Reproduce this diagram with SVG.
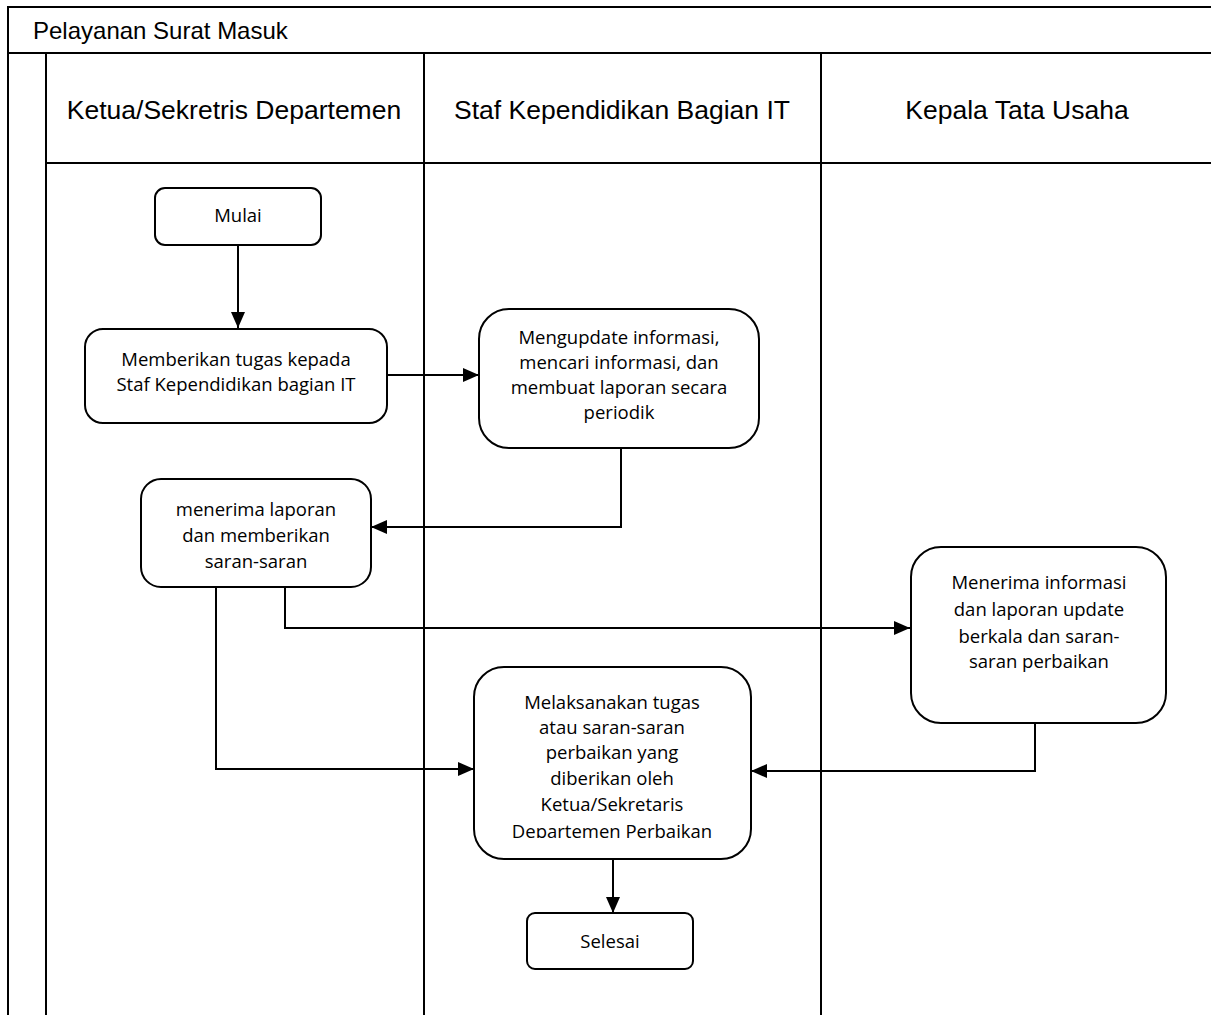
<svg xmlns="http://www.w3.org/2000/svg" width="1211" height="1015" viewBox="0 0 1211 1015">
<style>
.frame{fill:none;stroke:#000;stroke-width:2}
.box{fill:#fff;stroke:#000;stroke-width:2}
.hdr{font-family:"Liberation Sans",Arial,sans-serif;font-size:26.5px;fill:#000;text-anchor:middle}
.ttl{font-family:"Liberation Sans",Arial,sans-serif;font-size:24px;fill:#000}
.t{font-family:"Open Sans","Noto Sans",sans-serif;font-size:18.5px;fill:#000;text-anchor:middle}
.c{fill:none;stroke:#000;stroke-width:2}
</style>
<defs>
<marker id="ah" markerUnits="userSpaceOnUse" markerWidth="16" markerHeight="14" refX="16" refY="7" orient="auto">
<path d="M0,0 L16,7 L0,14 Z" fill="#000"/>
</marker>
<clipPath id="clipM"><rect x="474" y="667" width="277" height="171"/></clipPath>
</defs>
<rect width="1211" height="1015" fill="#fff"/>
<g id="pool">
<path class="frame" d="M8,1015 V7 H1212 M8,53 H1212 M46,53 V1015 M46,163 H1212 M424,53 V1015 M821,53 V1015"/>
<text class="ttl" x="33" y="39">Pelayanan Surat Masuk</text>
<text class="hdr" x="234" y="119">Ketua/Sekretris Departemen</text>
<text class="hdr" x="622" y="119">Staf Kependidikan Bagian IT</text>
<text class="hdr" x="1017" y="119">Kepala Tata Usaha</text>
</g>
<g id="connectors">
<path class="c" d="M238,245 V328" marker-end="url(#ah)"/>
<path class="c" d="M387,375 H479" marker-end="url(#ah)"/>
<path class="c" d="M621,448 V527 H371" marker-end="url(#ah)"/>
<path class="c" d="M285,587 V628 H910" marker-end="url(#ah)"/>
<path class="c" d="M216,587 V769 H474" marker-end="url(#ah)"/>
<path class="c" d="M1035,723 V771 H751" marker-end="url(#ah)"/>
<path class="c" d="M613,859 V913" marker-end="url(#ah)"/>
</g>
<g id="mulai">
<rect class="box" x="155" y="188" width="166" height="57" rx="10"/>
<text class="t" x="238" y="222">Mulai</text>
</g>
<g id="memberikan">
<rect class="box" x="85" y="329" width="302" height="94" rx="18"/>
<text class="t" x="236" y="366">Memberikan tugas kepada</text>
<text class="t" x="236" y="391">Staf Kependidikan bagian IT</text>
</g>
<g id="mengupdate">
<rect class="box" x="479" y="309" width="280" height="139" rx="30"/>
<text class="t" x="619" y="344">Mengupdate informasi,</text>
<text class="t" x="619" y="369">mencari informasi, dan</text>
<text class="t" x="619" y="394">membuat laporan secara</text>
<text class="t" x="619" y="419">periodik</text>
</g>
<g id="menerima-laporan">
<rect class="box" x="141" y="479" width="230" height="108" rx="20"/>
<text class="t" x="256" y="516">menerima laporan</text>
<text class="t" x="256" y="542">dan memberikan</text>
<text class="t" x="256" y="568">saran-saran</text>
</g>
<g id="menerima-informasi">
<rect class="box" x="911" y="547" width="255" height="176" rx="30"/>
<text class="t" x="1039" y="589">Menerima informasi</text>
<text class="t" x="1039" y="616">dan laporan update</text>
<text class="t" x="1039" y="643">berkala dan saran-</text>
<text class="t" x="1039" y="668">saran perbaikan</text>
</g>
<g id="melaksanakan">
<rect class="box" x="474" y="667" width="277" height="192" rx="30"/>
<g clip-path="url(#clipM)">
<text class="t" x="612" y="709">Melaksanakan tugas</text>
<text class="t" x="612" y="734">atau saran-saran</text>
<text class="t" x="612" y="759">perbaikan yang</text>
<text class="t" x="612" y="785">diberikan oleh</text>
<text class="t" x="612" y="811">Ketua/Sekretaris</text>
<text class="t" x="612" y="838">Departemen Perbaikan</text>
</g>
</g>
<g id="selesai">
<rect class="box" x="527" y="913" width="166" height="56" rx="8"/>
<text class="t" x="610" y="948">Selesai</text>
</g>
</svg>
